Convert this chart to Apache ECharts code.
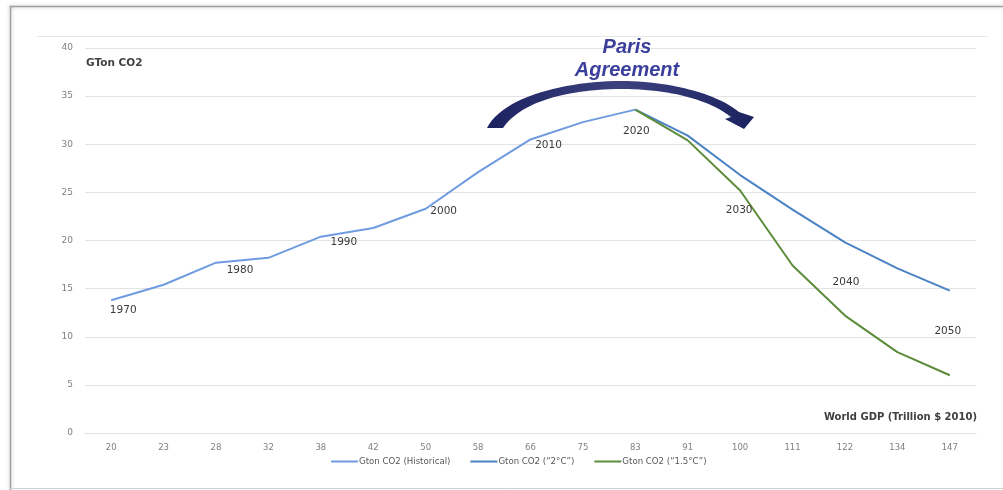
<!DOCTYPE html>
<html>
<head>
<meta charset="utf-8">
<script src="https://cdn.jsdelivr.net/npm/echarts@6/dist/echarts.min.js"></script>
<style>
  html, body { margin: 0; padding: 0; background: #ffffff; }
  #chart { width: 1003px; height: 490px; }
</style>
</head>
<body>
<div id="chart"></div>
<script>
// World GDP (trillion $ 2010) along the x axis
const gdpCategories = ['20', '23', '28', '32', '38', '42', '50', '58', '66', '75', '83', '91', '100', '111', '122', '134', '147'];

// Emissions in GTon CO2
const historical = [13.8, 15.4, 17.7, 18.2, 20.4, 21.3, 23.3, 27.1, 30.5, 32.3, 33.6, null, null, null, null, null, null];
const pathway2C = [null, null, null, null, null, null, null, null, null, null, 33.6, 30.9, 26.8, 23.2, 19.8, 17.1, 14.8];
const pathway15C = [null, null, null, null, null, null, null, null, null, null, 33.6, 30.4, 25.2, 17.4, 12.2, 8.4, 6.0];

// Year tags along the curves
const yearTags = ['1970', '', '1980', '', '1990', '', '2000', '', '2010', '', '2020', '', '2030', '', '2040', '', '2050'];

const yTicks = { min: 0, max: 40, interval: 5 };

// Placement of each year tag: which curve carries it and its pixel offset from the point
const tagPlacement = {
  0: { series: 'hist', offset: [12, 10] },
  2: { series: 'hist', offset: [24, 8] },
  4: { series: 'hist', offset: [23, 6] },
  6: { series: 'hist', offset: [18, 3] },
  8: { series: 'hist', offset: [18, 6] },
  10: { series: 'hist', offset: [1, 22] },
  12: { series: 'p15', offset: [-1, 20] },
  14: { series: 'p2', offset: [1, 40] },
  16: { series: 'p2', offset: [-2, 41] }
};

const tagStyle = { fontFamily: 'DejaVu Sans', fontSize: 10.5, color: '#3a3a3a' };

function withTags(values, key) {
  return values.map(function (v, i) {
    const p = tagPlacement[i];
    if (v == null || !p || p.series !== key || !yearTags[i]) return v;
    return {
      value: v,
      label: Object.assign({
        show: true,
        position: 'inside',
        offset: p.offset,
        formatter: yearTags[i]
      }, tagStyle)
    };
  });
}

// Curved arrow outline: two cubic curves (outer and inner edge) joined by the arrow head
function cubic(p0, p1, p2, p3, n) {
  const pts = [];
  for (let k = 0; k <= n; k++) {
    const t = k / n, u = 1 - t;
    pts.push([
      u * u * u * p0[0] + 3 * u * u * t * p1[0] + 3 * u * t * t * p2[0] + t * t * t * p3[0],
      u * u * u * p0[1] + 3 * u * u * t * p1[1] + 3 * u * t * t * p2[1] + t * t * t * p3[1]
    ]);
  }
  return pts;
}
function arrowOutline() {
  let pts = [];
  pts = pts.concat(cubic([487, 128], [503, 96], [568, 81], [621, 81], 24));
  pts = pts.concat(cubic([621, 81], [668, 81], [716, 93], [739, 112], 24).slice(1));
  pts.push([754, 117], [744, 129], [725, 119]);
  pts = pts.concat(cubic([731, 117], [710, 100], [670, 89], [622, 89], 24));
  pts = pts.concat(cubic([622, 89], [572, 89], [522, 100], [503, 128], 24).slice(1));
  return pts;
}

const chart = echarts.init(document.getElementById('chart'), null, { renderer: 'canvas' });

const lineBase = {
  type: 'line',
  symbol: 'circle',
  symbolSize: 0,
  showSymbol: true,
  connectNulls: false,
  emphasis: { disabled: true },
  z: 3
};

chart.setOption({
  animation: false,
  backgroundColor: '#ffffff',
  grid: { left: 85, right: 27, top: 48, bottom: 57, containLabel: false },
  legend: {
    bottom: 19,
    left: 326,
    icon: 'rect',
    itemWidth: 27,
    itemHeight: 2,
    itemGap: 20,
    textStyle: { fontFamily: 'DejaVu Sans', fontSize: 8.6, color: '#595959', padding: [0, 0, 0, -4] },
    data: ['Gton CO2 (Historical)', 'Gton CO2 (“2°C”)', 'Gton CO2 (“1.5°C”)']
  },
  xAxis: {
    type: 'category',
    data: gdpCategories,
    boundaryGap: true,
    axisLine: { show: true, lineStyle: { color: '#e3e3e3', width: 1 } },
    axisTick: { show: false },
    axisLabel: { fontFamily: 'DejaVu Sans', fontSize: 8.5, color: '#7f7f7f', margin: 10 },
    splitLine: { show: false }
  },
  yAxis: {
    type: 'value',
    min: yTicks.min,
    max: yTicks.max,
    interval: yTicks.interval,
    axisLine: { show: false },
    axisTick: { show: false },
    axisLabel: { fontFamily: 'DejaVu Sans', fontSize: 9, color: '#7f7f7f', margin: 12 },
    splitLine: { lineStyle: { color: '#e3e3e3', width: 1 } }
  },
  series: [
    Object.assign({}, lineBase, {
      name: 'Gton CO2 (Historical)',
      data: withTags(historical, 'hist'),
      itemStyle: { color: '#6f9be0' },
      lineStyle: { color: '#6f9be0', width: 2 }
    }),
    Object.assign({}, lineBase, {
      name: 'Gton CO2 (“2°C”)',
      data: withTags(pathway2C, 'p2'),
      itemStyle: { color: '#4a82c4' },
      lineStyle: { color: '#4a82c4', width: 2 }
    }),
    Object.assign({}, lineBase, {
      name: 'Gton CO2 (“1.5°C”)',
      data: withTags(pathway15C, 'p15'),
      itemStyle: { color: '#5b8c3a' },
      lineStyle: { color: '#5b8c3a', width: 2 }
    })
  ],
  graphic: [
    // outer frame
    { type: 'line', silent: true, shape: { x1: 10, y1: 6.5, x2: 1003, y2: 6.5 }, style: { stroke: '#a0a0a0', lineWidth: 1.5, shadowBlur: 4, shadowColor: 'rgba(0,0,0,0.25)' } },
    { type: 'line', silent: true, shape: { x1: 10.5, y1: 6, x2: 10.5, y2: 490 }, style: { stroke: '#a0a0a0', lineWidth: 1.5, shadowBlur: 4, shadowColor: 'rgba(0,0,0,0.25)' } },
    { type: 'line', silent: true, shape: { x1: 10, y1: 488.5, x2: 1003, y2: 488.5 }, style: { stroke: '#d0d0d0', lineWidth: 1 } },
    // inner plot-area border
    { type: 'line', silent: true, shape: { x1: 37, y1: 36.5, x2: 988, y2: 36.5 }, style: { stroke: '#e6e6e6', lineWidth: 1 } },
    // axis titles
    { type: 'text', silent: true, style: { text: 'GTon CO2', x: 86, y: 63, verticalAlign: 'middle', fontFamily: 'DejaVu Sans', fontSize: 10.5, fontWeight: 'bold', fill: '#404040' } },
    { type: 'text', silent: true, style: { text: 'World GDP (Trillion $ 2010)', x: 977, y: 417, align: 'right', verticalAlign: 'middle', fontFamily: 'DejaVu Sans', fontSize: 10, fontWeight: 'bold', fill: '#404040' } },
    // Paris Agreement annotation
    { type: 'text', silent: true, z: 10, style: { text: 'Paris', x: 627, y: 47, align: 'center', verticalAlign: 'middle', fontFamily: 'Liberation Sans', fontSize: 20, fontWeight: 'bold', fontStyle: 'italic', fill: '#3b3f9c' } },
    { type: 'text', silent: true, z: 10, style: { text: 'Agreement', x: 627, y: 70, align: 'center', verticalAlign: 'middle', fontFamily: 'Liberation Sans', fontSize: 20, fontWeight: 'bold', fontStyle: 'italic', fill: '#3b3f9c' } },
    {
      type: 'polygon', silent: true, z: 10,
      shape: { points: arrowOutline() },
      style: {
        fill: {
          type: 'linear', x: 0, y: 0, x2: 1, y2: 0,
          colorStops: [
            { offset: 0, color: '#1c2160' },
            { offset: 0.5, color: '#3d427f' },
            { offset: 1, color: '#1c2160' }
          ]
        }
      }
    }
  ]
});
</script>
</body>
</html>
